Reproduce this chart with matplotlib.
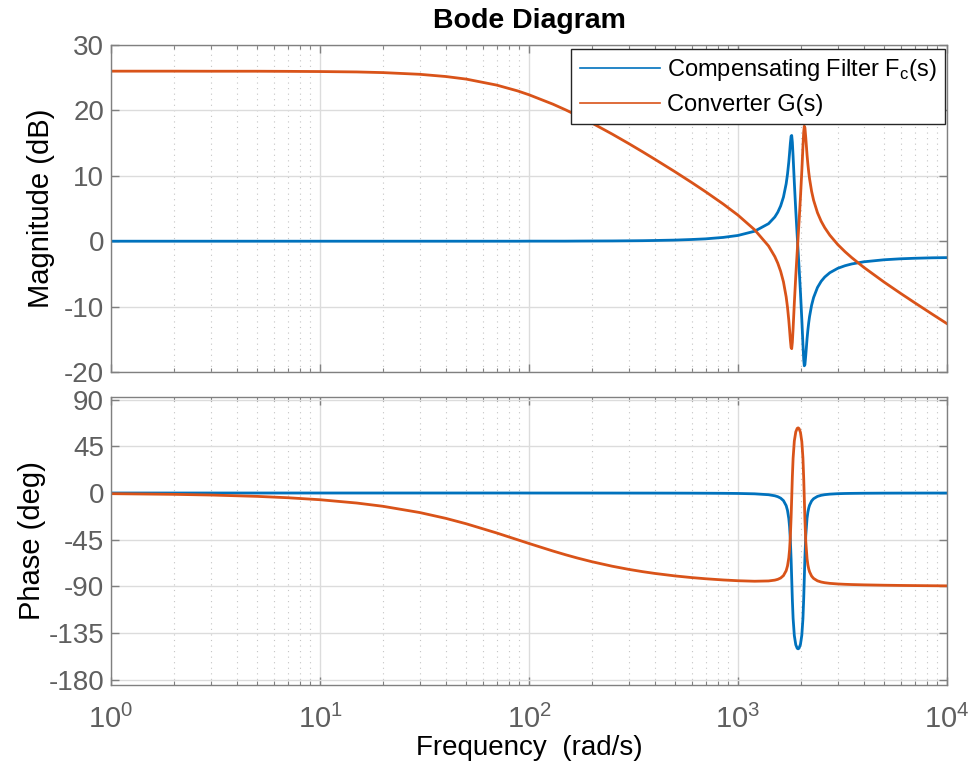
import matplotlib
matplotlib.use('Agg')
import matplotlib.pyplot as plt
from matplotlib.ticker import FixedLocator, NullFormatter, LogLocator, FixedFormatter

plt.rcParams['font.family'] = ['Liberation Sans', 'DejaVu Sans']
plt.rcParams['mathtext.fontset'] = 'custom'
plt.rcParams['mathtext.rm'] = 'Liberation Sans'
plt.rcParams['mathtext.it'] = 'Liberation Sans:italic'
plt.rcParams['axes.unicode_minus'] = False

# frequency points (rad/s)
freq = [1, 2, 3, 5, 7, 10, 15, 20, 30, 40, 50, 70, 88, 100, 130, 150, 170, 200, 250, 300,
        350, 400, 500, 600, 700, 850, 1000, 1200, 1400, 1500, 1550, 1600, 1650, 1700, 1725,
        1750, 1765, 1780, 1795, 1807, 1820, 1835, 1860, 1890, 1920, 1940, 1960, 1990, 2020,
        2045, 2063, 2076, 2090, 2110, 2140, 2160, 2180, 2200, 2250, 2300, 2400, 2500, 2600,
        2750, 3000, 3250, 3500, 4000, 5000, 6000, 7000, 8500, 10000]

# Compensating filter magnitude (dB)
fc_mag = [0.00, 0.00, 0.00, 0.00, 0.00, 0.00, 0.00, 0.00, 0.00, 0.00, 0.00, 0.00, 0.00, 0.01,
          0.01, 0.01, 0.02, 0.03, 0.04, 0.06, 0.08, 0.11, 0.17, 0.26, 0.36, 0.58, 0.88, 1.52,
          2.68, 3.70, 4.43, 5.40, 6.75, 8.78, 10.23, 12.11, 13.48, 14.94, 16.07, 16.17, 15.13,
          12.97, 8.96, 4.65, 0.81, -1.62, -4.04, -7.82, -11.99, -15.77, -18.16, -19.05,
          -18.89, -17.42, -14.91, -13.55, -12.43, -11.51, -9.79, -8.61, -7.08, -6.13, -5.48,
          -4.82, -4.15, -3.75, -3.48, -3.15, -2.84, -2.69, -2.61, -2.54, -2.51]

# Converter magnitude (dB)
g_mag = [26.00, 26.00, 25.99, 25.99, 25.97, 25.94, 25.88, 25.78, 25.52, 25.18, 24.79, 23.87,
         22.99, 22.39, 20.96, 20.07, 19.23, 18.07, 16.38, 14.93, 13.66, 12.53, 10.61, 8.98,
         7.56, 5.68, 3.98, 1.76, -0.73, -2.35, -3.36, -4.61, -6.22, -8.51, -10.09, -12.09,
         -13.54, -15.07, -16.27, -16.43, -15.45, -13.36, -9.47, -5.30, -1.60, 0.74, 3.08,
         6.72, 10.76, 14.44, 16.75, 17.59, 17.37, 15.82, 13.18, 11.74, 10.54, 9.54, 7.63,
         6.26, 4.36, 3.05, 2.07, 0.92, -0.51, -1.60, -2.51, -4.00, -6.25, -7.98, -9.40,
         -11.16, -12.61]

# Compensating filter phase (deg)
fc_phase = [0.00, 0.00, 0.00, 0.00, 0.00, 0.00, 0.00, 0.00, 0.00, 0.00, 0.00, 0.00, 0.00,
            -0.02, -0.03, -0.03, -0.03, -0.04, -0.05, -0.07, -0.08, -0.09, -0.12, -0.16,
            -0.21, -0.30, -0.44, -0.80, -1.66, -2.68, -3.56, -4.95, -7.35, -12.17, -16.72,
            -24.66, -32.63, -44.96, -63.64, -82.63, -102.90, -120.71, -137.40, -146.23,
            -149.66, -150.16, -149.49, -145.83, -136.99, -121.18, -101.09, -82.23, -62.12,
            -40.98, -24.28, -18.36, -14.46, -11.75, -7.68, -5.49, -3.27, -2.21, -1.61, -1.10,
            -0.68, -0.47, -0.36, -0.23, -0.13, -0.09, -0.07, -0.05, -0.04]

# Converter phase (deg)
g_phase = [-0.65, -1.30, -1.95, -3.25, -4.55, -6.48, -9.67, -12.80, -18.82, -24.44, -29.61,
           -38.50, -45.00, -48.63, -55.87, -59.57, -62.60, -66.21, -70.55, -73.58, -75.81,
           -77.50, -79.90, -81.50, -82.63, -83.79, -84.53, -85.02, -84.74, -83.96, -83.19,
           -81.91, -79.60, -74.87, -70.36, -62.46, -54.52, -42.21, -23.55, -4.58, 15.67,
           33.46, 50.11, 58.90, 62.28, 62.76, 62.06, 58.36, 49.49, 33.64, 13.53, -5.34,
           -25.47, -46.63, -63.36, -69.31, -73.23, -75.96, -80.08, -82.32, -84.63, -85.77,
           -86.45, -87.07, -87.64, -87.98, -88.21, -88.51, -88.86, -89.07, -89.21, -89.36,
           -89.46]

mag_ticks = [-20, -10, 0, 10, 20, 30]
phase_ticks = [-180, -135, -90, -45, 0, 45, 90]
x_ticks = [1, 10, 100, 1000, 10000]
x_ticklabels = [r'$10^{0}$', r'$10^{1}$', r'$10^{2}$', r'$10^{3}$', r'$10^{4}$']

blue = '#0072BD'
orange = '#D95319'
axcol = '#808080'
tickcol = '#5f5f5f'

W, H = 970, 764
fig = plt.figure(figsize=(W / 100, H / 100), dpi=100)
ax1 = fig.add_axes([111 / W, 1 - 372 / H, 836 / W, 327 / H])
ax2 = fig.add_axes([111 / W, 1 - 685 / H, 836 / W, 288 / H])

ax1.plot(freq, fc_mag, color=blue, lw=2.0, label=r'Compensating Filter F$_\mathrm{c}$(s)')
ax1.plot(freq, g_mag, color=orange, lw=2.0, label='Converter G(s)')
ax2.plot(freq, fc_phase, color=blue, lw=2.0)
ax2.plot(freq, g_phase, color=orange, lw=2.0)

for ax in (ax1, ax2):
    ax.set_xscale('log')
    ax.set_xlim(1, 10000)
    ax.xaxis.set_major_locator(FixedLocator(x_ticks))
    ax.xaxis.set_minor_locator(LogLocator(base=10, subs=range(2, 10), numticks=20))
    ax.xaxis.set_minor_formatter(NullFormatter())
    ax.grid(True, which='major', color='#dcdcdc', lw=1.0, ls='-')
    ax.grid(True, which='minor', axis='x', color='#c4c4c4', lw=0.8, ls=(0, (1, 4)))
    ax.set_axisbelow(True)
    for s in ax.spines.values():
        s.set_color(axcol)
        s.set_linewidth(1.0)
    ax.tick_params(which='both', direction='in', top=True, right=True, colors=axcol,
                   labelcolor=tickcol)
    ax.tick_params(which='major', length=6, width=1.0)
    ax.tick_params(which='minor', length=3, width=0.8)

ax1.set_ylim(-20, 30)
ax1.yaxis.set_major_locator(FixedLocator(mag_ticks))
ax1.tick_params(axis='y', labelsize=20, pad=5)
ax1.xaxis.set_major_formatter(NullFormatter())

ax2.set_ylim(-185, 92.5)
ax2.yaxis.set_major_locator(FixedLocator(phase_ticks))
ax2.tick_params(axis='y', labelsize=20, pad=5)
ax2.xaxis.set_major_formatter(FixedFormatter(x_ticklabels))
ax2.tick_params(axis='x', labelsize=21, pad=14)

ax1.set_ylabel('Magnitude (dB)', fontsize=21, color='black', labelpad=6)
ax2.set_ylabel('Phase (deg)', fontsize=21, color='black', labelpad=2)
ax2.set_xlabel('Frequency  (rad/s)', fontsize=20, color='black', labelpad=1)
ax1.set_title('Bode Diagram', fontsize=20.5, fontweight='bold', color='black', pad=12)

leg = ax1.legend(loc='upper right', bbox_to_anchor=(945 / W, 1 - 49 / H),
                 bbox_transform=fig.transFigure, fontsize=17, frameon=True, fancybox=False,
                 edgecolor='#262626', framealpha=1.0, handlelength=3.4,
                 borderaxespad=0.0, labelspacing=0.45, borderpad=0.35, handletextpad=0.3)
leg.get_frame().set_linewidth(1.0)
for line in leg.get_lines():
    line.set_linewidth(1.2)

fig.savefig('out.png', dpi=100)
